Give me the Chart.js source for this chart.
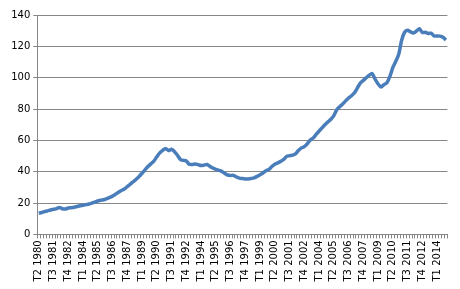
<!DOCTYPE html>
<html lang="fr">
<head>
  <meta charset="UTF-8">
  <title>Indice trimestriel 1980-2014</title>
  <script src="https://cdn.jsdelivr.net/npm/chart.js"></script>
  <style>
    body { margin: 0; background: #fff; }
    #wrap { width: 460px; height: 289px; }
  </style>
</head>
<body>
  <div id="wrap"><canvas id="chart" width="460" height="289"></canvas></div>
  <script>
    // series starts at T2 1980, one value per quarter, ends T4 2014
    const startYear = 1980;
    const startQuarter = 2;
    const labelEvery = 5;

    const values = [
      13.5, 14, 14.6,
      15, 15.6, 16, 16.4,
      17.2, 16.4, 16.2, 16.8,
      17, 17.3, 17.8, 18.3,
      18.6, 19, 19.4, 20,
      20.6, 21.3, 21.8, 22.1,
      22.8, 23.6, 24.4, 25.6,
      26.9, 28, 29, 30.5,
      32, 33.6, 35.2, 37,
      39, 41.2, 43.3, 45,
      46.8, 49.5, 52, 53.6,
      54.8, 53.5, 54.3, 52.8,
      50.5, 47.8, 47.2, 46.8,
      44.7, 44.6, 45, 44.5,
      43.9, 44.2, 44.6, 43.4,
      42.4, 41.5, 40.9, 40.2,
      39, 37.9, 37.6, 37.7,
      36.6, 35.9, 35.6, 35.4,
      35.4, 35.7, 36.1, 37,
      38.1, 39.2, 40.6, 41.5,
      43.3, 44.8, 45.6, 46.6,
      47.8, 49.8, 50.2, 50.6,
      51.4, 53.6, 55.2, 56,
      57.8, 60.3, 61.5, 63.8,
      66, 68, 70, 71.8,
      73.5, 75.8, 79.5, 81.5,
      83.2, 85.2, 87, 88.5,
      90.4, 93.5, 96.6, 98.3,
      100, 101.6, 102.6, 99,
      96, 94, 95.6, 96.8,
      100.8, 106.5, 110.5, 115,
      124, 129, 130.2, 129.2,
      128.5, 129.8, 131.2, 128.8,
      129, 128.2, 128.4, 126.6,
      126.6, 126.5, 125.8, 124
    ];

    const labels = [];
    let y = startYear, q = startQuarter;
    for (let i = 0; i < values.length; i++) {
      labels.push('T' + q + ' ' + y);
      q++;
      if (q > 4) { q = 1; y++; }
    }

    const yTicks = [0, 20, 40, 60, 80, 100, 120, 140];

    const ctx = document.getElementById('chart').getContext('2d');
    new Chart(ctx, {
      type: 'line',
      data: {
        labels: labels,
        datasets: [{
          data: values,
          borderColor: '#4a7ebb',
          borderWidth: 3.5,
          pointRadius: 0,
          tension: 0.25,
          fill: false
        }]
      },
      options: {
        responsive: false,
        animation: false,
        layout: { padding: { top: 15, right: 12, left: 0, bottom: 0 } },
        plugins: {
          legend: { display: false },
          tooltip: { enabled: false }
        },
        scales: {
          x: {
            offset: true,
            grid: {
              offset: true,
              drawOnChartArea: false,
              drawTicks: true,
              tickLength: 4,
              color: '#868686'
            },
            border: { color: '#868686' },
            ticks: {
              autoSkip: false,
              maxRotation: 90,
              minRotation: 90,
              padding: 2,
              color: '#000',
              font: { family: 'DejaVu Sans', size: 10 },
              callback: function (val, idx) {
                return idx % labelEvery === 0 ? labels[idx] : '';
              }
            },
            afterFit: function (scale) { scale.height = 54.6; }
          },
          y: {
            min: 0,
            max: 140,
            afterBuildTicks: function (scale) {
              scale.ticks = yTicks.map(v => ({ value: v }));
            },
            grid: {
              color: '#868686',
              tickLength: 4
            },
            border: { color: '#868686' },
            ticks: {
              color: '#000',
              padding: 3,
              font: { family: 'DejaVu Sans', size: 10 }
            },
            afterFit: function (scale) { scale.width = 37.3; }
          }
        }
      }
    });
  </script>
</body>
</html>
